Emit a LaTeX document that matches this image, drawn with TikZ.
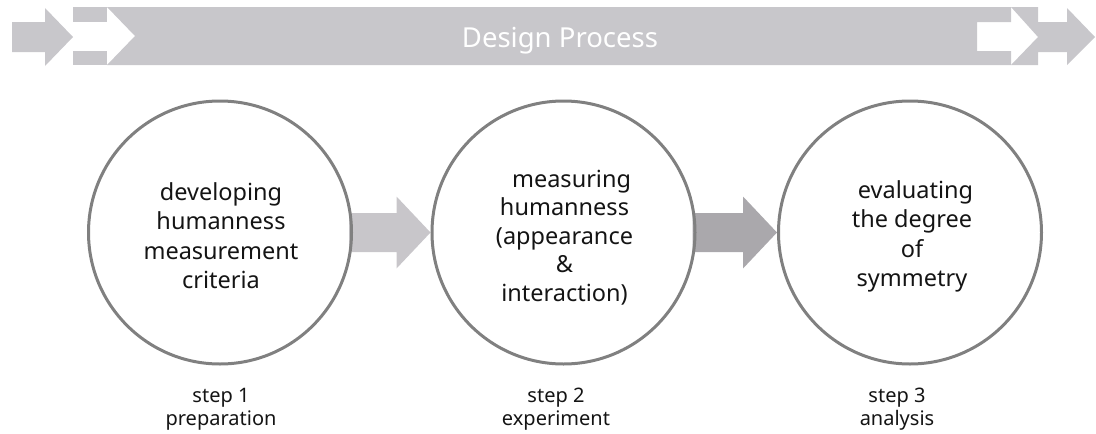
\documentclass[tikz,border=0pt]{standalone}
\usepackage{fontspec}
\setmainfont{Noto Sans}
\usetikzlibrary{calc}
\pgfdeclarelayer{background}
\pgfsetlayers{background,main}
\definecolor{bandgray}{RGB}{200,199,203}
\definecolor{lightarrow}{RGB}{200,198,202}
\definecolor{darkarrow}{RGB}{170,168,172}
\definecolor{ringgray}{RGB}{128,128,128}
\definecolor{ink}{RGB}{20,20,20}
% block arrow from the east side of one node to the west side of another
\newcommand\blockarrow[3]{%
  \begin{pgfonlayer}{background}
  \fill[#1] let \p1=(#2.east), \p2=(#3.west) in
    (\x1-4pt,\y1+19.5pt) -- (\x2-34pt,\y1+19.5pt) -- (\x2-34pt,\y1+36pt) --
    (\x2,\y1) -- (\x2-34pt,\y1-36pt) -- (\x2-34pt,\y1-19.5pt) --
    (\x1-4pt,\y1-19.5pt) -- cycle;
  \end{pgfonlayer}}
\begin{document}
\begin{tikzpicture}[x=1pt,y=-1pt,
  stage/.style={circle,draw=ringgray,line width=3pt,minimum size=263pt,inner sep=0pt},
  stagetext/.style={align=center,text=ink,inner sep=0pt,font=\fontsize{23.5}{29.5}\selectfont},
  steplabel/.style={align=center,text=ink,font=\fontsize{20}{23}\selectfont},
  band/.style={fill=bandgray},
]
\useasboundingbox (0,0) rectangle (1096,434);

% process band with arrow notches
\fill[band] (12,22) -- (45,22) -- (45,8) -- (73,37) -- (45,66) -- (45,52) -- (12,52) -- cycle;
\fill[band] (73,7) rectangle (107,22);
\fill[band] (73,51) rectangle (107,65);
\fill[band] (107,7) -- (1011,7) -- (1011,22) -- (977,22) -- (977,51) -- (1011,51)
  -- (1011,65) -- (107,65) -- (135,36) -- cycle;
\fill[band] (1011,7) -- (1038,7) -- (1038,22) -- (1067,22) -- (1067,8) -- (1095,37)
  -- (1067,65) -- (1067,52) -- (1038,52) -- (1038,65) -- (1011,65) -- (1038,37) -- cycle;
\node[text=white,font=\fontsize{27.5}{30}\selectfont] (title) at (560,40.5) {Design Process};

% stages
\node[stage] (c1) at (220,232.5) {};
\node[stage] (c2) at (563.5,232.5) {};
\node[stage] (c3) at (910,232.5) {};
\node[stagetext] (t1) at ($(c1)+(1,3)$) {developing\\humanness\\measurement\\criteria};
\node[stagetext,font=\fontsize{23.5}{28.4}\selectfont] (t2) at ($(c2)+(1,5)$)
  {\hspace{0.6em}measuring\\humanness\\(appearance\\\&\\interaction)};
\node[stagetext] (t3) at ($(c3)+(2,4)$) {\hspace{0.3em}evaluating\\the degree\\of\\symmetry};

\blockarrow{lightarrow}{c1}{c2}
\blockarrow{darkarrow}{c2}{c3}

% step labels
\node[steplabel] (s1) at (221,409.5) {step 1\\preparation};
\node[steplabel] (s2) at (556,409.5) {step 2\\experiment};
\node[steplabel] (s3) at (897,409.5) {step 3\\analysis};
\end{tikzpicture}
\end{document}
